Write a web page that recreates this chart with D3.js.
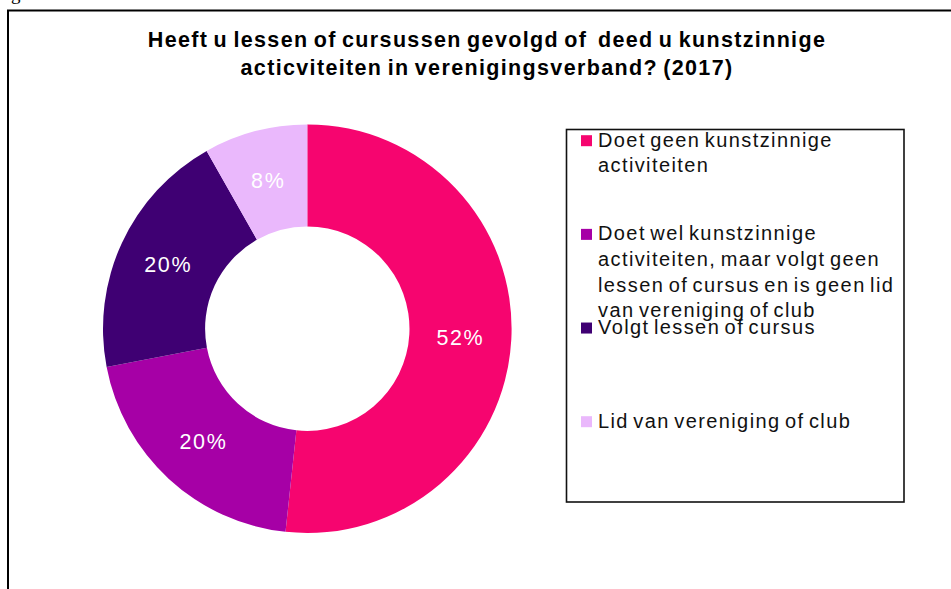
<!DOCTYPE html>
<html>
<head>
<meta charset="utf-8">
<script src="https://cdn.jsdelivr.net/npm/d3@7"></script>
<style>
  html, body { margin: 0; padding: 0; background: #fff; }
  svg { display: block; }
  text { font-family: "Liberation Sans", Arial, sans-serif; }
</style>
</head>
<body>
<div id="chart"><svg></svg></div>
<script>
// chart data
const titleLines = [
    "Heeft u lessen of cursussen gevolgd of  deed u kunstzinnige",
    "acticviteiten in verenigingsverband? (2017)"
];
const categories = [
    "Doet geen kunstzinnige\nactiviteiten",
    "Doet wel kunstzinnige\nactiviteiten, maar volgt geen\nlessen of cursus en is geen lid\nvan vereniging of club",
    "Volgt lessen of cursus",
    "Lid van vereniging of club"
];
const values = [51.7, 20.3, 19.8, 8.2];
const valueLabels = ["52%", "20%", "20%", "8%"];
const colors = ["#F6056F", "#A600A6", "#3F0073", "#EAB8FC"];

var width = 951,
    height = 589,
    svg

const chart = () => {
    svg = d3.select('#chart').select('svg')
        .attr('width', width)
        .attr('height', height);

    // fragment of text above the frame
    svg.append('text')
        .attr('x', 11)
        .attr('y', 0)
        .style('font-family', '"Liberation Serif", "Times New Roman", serif')
        .style('font-size', '19px')
        .text('g');

    // outer frame (runs off the page right and bottom)
    svg.append('rect')
        .attr('x', 8)
        .attr('y', 10.5)
        .attr('width', 1000)
        .attr('height', 700)
        .attr('fill', 'none')
        .attr('stroke', '#000')
        .attr('stroke-width', 2);

    drawTitle();
    drawDonut();
    drawLegend();
}

const drawTitle = () => {
    svg.append('g').selectAll('text')
        .data(titleLines)
        .enter()
        .append('text')
        .attr('x', 487)
        .attr('y', (d, i) => 46.7 + i * 28.5)
        .attr('text-anchor', 'middle')
        .style('font-size', '21.5px')
        .style('font-weight', 'bold')
        .style('letter-spacing', '1.35px')
        .style('word-spacing', '-2px')
        .attr('fill', '#000')
        .attr('xml:space', 'preserve')
        .text(d => d);
}

const drawDonut = () => {
    var cx = 307.3, cy = 328.7,
        outer = 204.3, inner = 102.2

    var pie = d3.pie().sort(null).value(d => d);
    var arc = d3.arc().innerRadius(inner).outerRadius(outer);
    var arcs = pie(values);

    var g = svg.append('g')
        .attr('transform', 'translate(' + cx + ',' + cy + ')');

    g.selectAll('path')
        .data(arcs)
        .enter()
        .append('path')
        .attr('d', arc)
        .attr('fill', (d, i) => colors[i]);

    g.selectAll('text')
        .data(arcs)
        .enter()
        .append('text')
        .attr('transform', d => 'translate(' + arc.centroid(d) + ')')
        .attr('text-anchor', 'middle')
        .attr('dy', '0.36em')
        .style('font-size', '21.5px')
        .style('letter-spacing', '1.6px')
        .attr('fill', '#fff')
        .text((d, i) => valueLabels[i]);
}

const drawLegend = () => {
    svg.append('rect')
        .attr('x', 566.5)
        .attr('y', 129.5)
        .attr('width', 337.5)
        .attr('height', 372.5)
        .attr('fill', '#fff')
        .attr('stroke', '#111')
        .attr('stroke-width', 1.6);

    var y = d3.scaleLinear().domain([0, 3]).range([146.7, 427.7]);

    var items = svg.append('g').selectAll('g')
        .data(categories)
        .enter()
        .append('g');

    items.append('rect')
        .attr('x', 581)
        .attr('y', (d, i) => y(i) - 11.5)
        .attr('width', 11)
        .attr('height', 11)
        .attr('fill', (d, i) => colors[i]);

    items.append('text')
        .attr('fill', '#111')
        .style('font-size', '20px')
        .style('letter-spacing', '1.4px')
        .style('word-spacing', '-2.5px')
        .each(function(d, i) {
            d3.select(this).selectAll('tspan')
                .data(d.split('\n'))
                .enter()
                .append('tspan')
                .attr('x', 598)
                .attr('y', (t, j) => y(i) + j * 25.6)
                .text(t => t);
        });
}

chart();
</script>
</body>
</html>
